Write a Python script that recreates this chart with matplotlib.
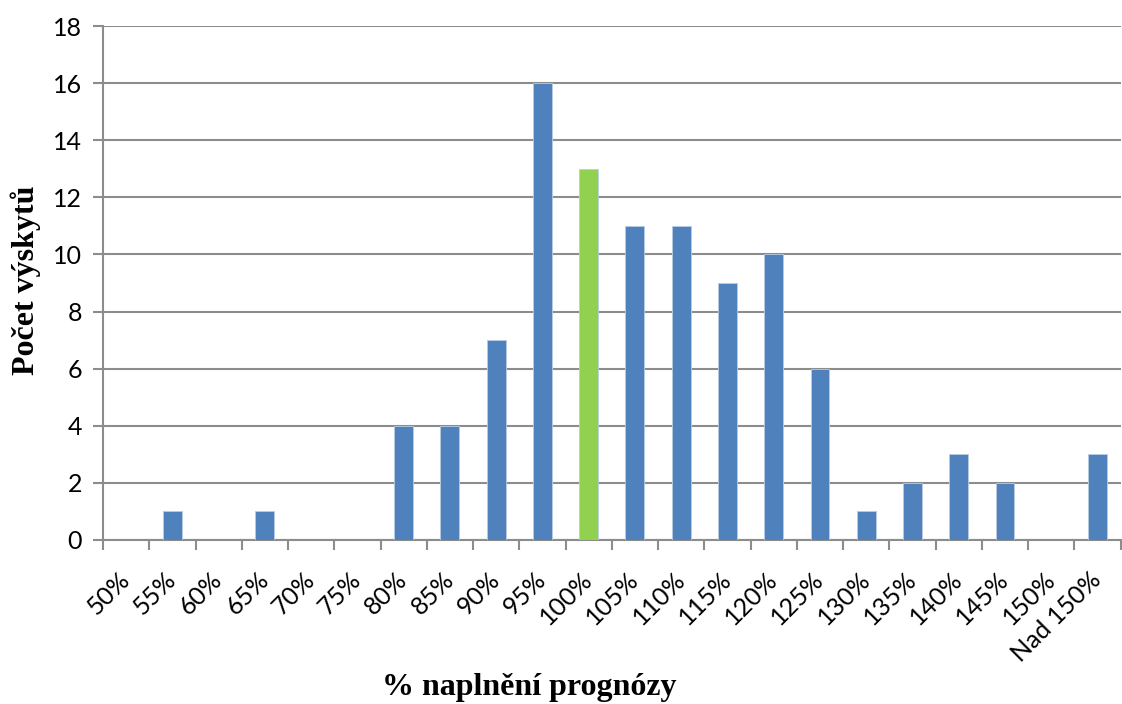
import numpy as np
import matplotlib.pyplot as plt
from matplotlib.transforms import ScaledTranslation

categories = ['50%', '55%', '60%', '65%', '70%', '75%', '80%', '85%', '90%', '95%',
              '100%', '105%', '110%', '115%', '120%', '125%', '130%', '135%',
              '140%', '145%', '150%', 'Nad 150%']
counts = [0, 1, 0, 1, 0, 0, 4, 4, 7, 16, 13, 11, 11, 9, 10, 6, 1, 2, 3, 2, 0, 3]
highlight = '100%'

blue = '#4F81BD'
green = '#92D050'
grid_gray = '#8C8C8C'

fig = plt.figure(figsize=(11.22, 7.04), dpi=100)
ax = fig.add_axes([0.0918, 0.233, 0.907, 0.730])

x = np.arange(len(categories))
colors = [green if c == highlight else blue for c in categories]
ax.bar(x, counts, width=0.41, color=colors, edgecolor='#B8CCE4', linewidth=0.6, zorder=3)

ax.set_xlim(-0.5, len(categories) - 0.5)
ax.set_ylim(0, 18)
ax.set_yticks(np.arange(0, 19, 2))
ax.yaxis.grid(True, color=grid_gray, linewidth=1.5, zorder=0)

# category ticks sit on the boundaries, labels in the middle
ax.set_xticks(np.arange(len(categories) + 1) - 0.5)
ax.set_xticklabels([])
ax.set_xticks(x, minor=True)
ax.set_xticklabels(categories, minor=True, rotation=45, ha='right', va='center',
                   rotation_mode='anchor', fontsize=18, family='Lato')
shift = ScaledTranslation(4 / 72, 0, fig.dpi_scale_trans)
for lab in ax.get_xticklabels(minor=True):
    lab.set_transform(lab.get_transform() + shift)
ax.tick_params(axis='x', which='minor', length=0, pad=26)
ax.tick_params(axis='x', which='major', length=7, width=1.5, color=grid_gray)
ax.tick_params(axis='y', length=7, width=1.5, color=grid_gray, labelsize=18, pad=8)
for lab in ax.get_yticklabels():
    lab.set_family('Lato')

for side in ['top', 'right']:
    ax.spines[side].set_visible(False)
for side in ['left', 'bottom']:
    ax.spines[side].set_color(grid_gray)
    ax.spines[side].set_linewidth(1.5)

fig.text(529 / 1122, 1 - 688 / 704, '% naplnění prognózy', family='Liberation Serif',
         fontweight='bold', fontsize=23, ha='center', va='center')
fig.text(26 / 1122, 1 - 280 / 704, 'Počet výskytů', family='Liberation Serif',
         fontweight='bold', fontsize=23, ha='center', va='center', rotation=90)

plt.savefig('out.png', dpi=100)
